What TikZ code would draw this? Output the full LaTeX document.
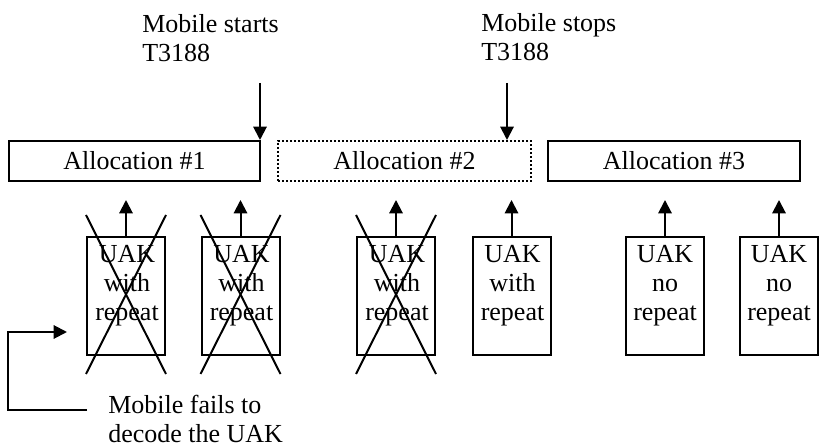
\documentclass[tikz,border=0pt]{standalone}
\usepackage{fontspec}
\setmainfont{Liberation Serif}
\usetikzlibrary{arrows.meta,calc}
\begin{document}
\begin{tikzpicture}[x=0.75pt,y=-0.75pt,
  every node/.style={font=\fontsize{19.5pt}{21.75pt}\selectfont},
  alloc/.style={draw,line width=1.5pt,minimum height=30pt,inner sep=0pt},
  dottedbox/.style={dash pattern=on 1.5pt off 1.5pt},
  uak/.style={draw,line width=1.5pt,minimum width=58.5pt,minimum height=88.5pt,inner sep=0pt},
  txt/.style={inner sep=0pt,align=center},
  ltxt/.style={inner sep=0pt,align=left,anchor=north west},
  arr/.style={line width=1.5pt,-{Triangle[width=10pt,length=10pt]}},
  cross/.style={line width=1.5pt},
]
\useasboundingbox (0,0) rectangle (820,448);

% allocation boxes
\node[alloc, minimum width=188.25pt] (a1) at (134.5,161) {Allocation \#1};
\node[alloc, dottedbox, minimum width=189.75pt] (a2) at (404.5,161) {Allocation \#2};
\node[alloc, minimum width=189pt] (a3) at (674,161) {Allocation \#3};

% UAK boxes
\node[uak] (u1) at (126,296) {};
\node[uak] (u2) at (240.5,296) {};
\node[uak] (u3) at (396,296) {};
\node[uak] (u4) at (511.5,296) {};
\node[uak] (u5) at (665,296) {};
\node[uak] (u6) at (779,296) {};

\node[txt, anchor=north] (t1) at ($(u1.north)+(1,9)$) {UAK\\with\\repeat};
\node[txt, anchor=north] (t2) at ($(u2.north)+(1,9)$) {UAK\\with\\repeat};
\node[txt, anchor=north] (t3) at ($(u3.north)+(1,9)$) {UAK\\with\\repeat};
\node[txt, anchor=north] (t4) at ($(u4.north)+(1,9)$) {UAK\\with\\repeat};
\node[txt, anchor=north] (t5) at ($(u5.north)+(0,9)$) {UAK\\no\\repeat};
\node[txt, anchor=north] (t6) at ($(u6.north)+(0,9)$) {UAK\\no\\repeat};

% crosses
\foreach \u in {u1,u2,u3}{
  \draw[cross] ($(\u.north west)+(0,-21)$) -- ($(\u.south east)+(0,18)$);
  \draw[cross] ($(\u.north east)+(0,-21)$) -- ($(\u.south west)+(0,18)$);
}

% up arrows
\draw[arr, shorten >=13.5pt] (u1) -- (u1 |- a1.south);
\draw[arr, shorten >=13.5pt] (u2) -- (u2 |- a1.south);
\draw[arr, shorten >=13.5pt] (u3) -- (u3 |- a2.south);
\draw[arr, shorten >=13.5pt] (u4) -- (u4 |- a2.south);
\draw[arr, shorten >=13.5pt] (u5) -- (u5 |- a3.south);
\draw[arr, shorten >=13.5pt] (u6) -- (u6 |- a3.south);

% top labels and down arrows
\node[ltxt] (m1) at (142,14) {Mobile starts\\T3188};
\node[ltxt] (m2) at (481,13) {Mobile stops\\T3188};
\coordinate (s1) at (260,83);
\coordinate (s2) at (507,83);
\draw[arr] (s1) -- (s1 |- a1.north);
\draw[arr] (s2) -- (s2 |- a2.north);

% bottom label and bracket arrow
\node[ltxt] (m3) at (108,395) {Mobile fails to\\decode the UAK};
\coordinate (f0) at (87,410);
\coordinate (f1) at (67,332);
\draw[arr] (f0) -- (8,410) |- (f1);
\end{tikzpicture}
\end{document}
